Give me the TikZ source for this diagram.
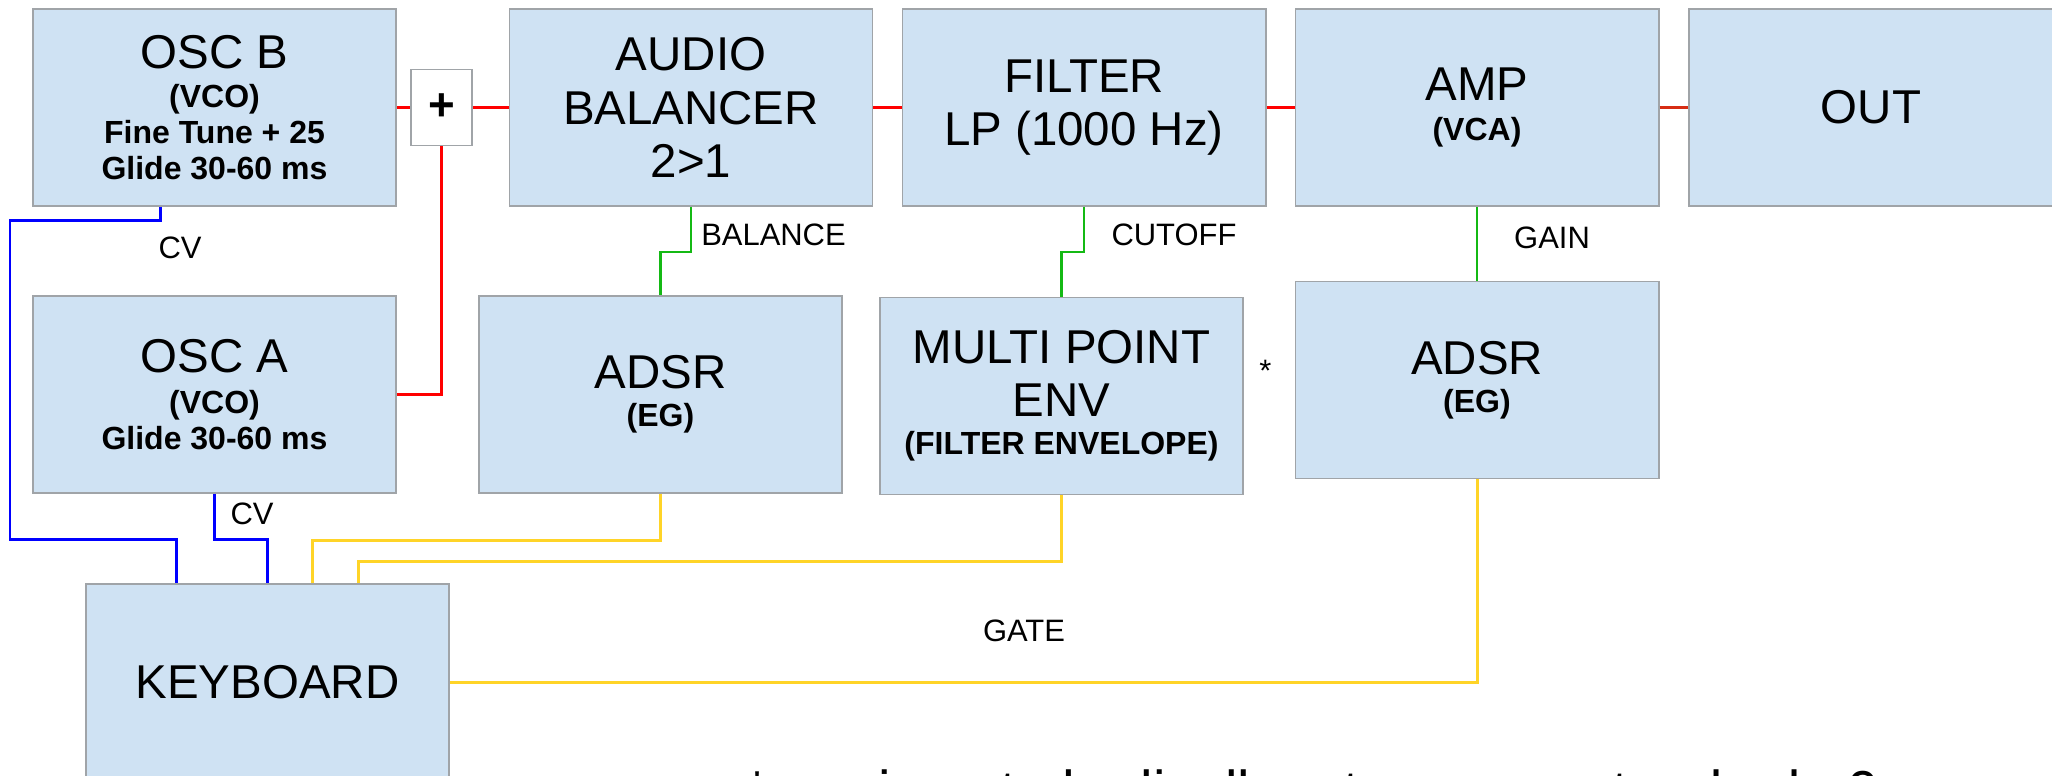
\documentclass[tikz,border=0pt]{standalone}
\usepackage{fontspec}
\setmainfont{Liberation Sans}
\definecolor{boxblue}{RGB}{207,226,243}
\definecolor{boxline}{RGB}{160,164,168}
\definecolor{audiored}{RGB}{255,0,0}
\definecolor{outred}{RGB}{215,45,20}
\definecolor{modgreen}{RGB}{20,185,20}
\definecolor{cvblue}{RGB}{0,0,255}
\definecolor{gateyellow}{RGB}{255,212,40}
\newcommand{\titlef}{\fontsize{13.5}{15.1}\selectfont\mdseries}
\newcommand{\subf}{\fontsize{9.1}{10.2}\selectfont\bfseries}
\newcommand{\lblf}{\fontsize{8.8}{10}\selectfont}

\begin{document}
\begin{tikzpicture}[x=0.01cm,y=-0.01cm,
	module/.style={draw=boxline,line width=0.5pt,fill=boxblue,minimum width=3.63cm,minimum height=1.97cm,inner sep=0pt,align=center,font=\subf},
	bigmodule/.style={module,font=\titlef},
	lbl/.style={font=\lblf,inner sep=0pt},
	audio/.style={draw=audiored,line width=1pt},
	cv/.style={draw=cvblue,line width=0.85pt},
	mod/.style={draw=modgreen,line width=0.75pt},
	gate/.style={draw=gateyellow,line width=0.85pt}]
	\useasboundingbox (0,0) rectangle (2052,775);
	\node[module] (oscb) at (214.5,107.5) {{\titlef OSC B}\\[0.8pt](VCO)\\Fine Tune + 25\\Glide 30-60 ms};
	\node[draw=boxline,fill=white,minimum width=0.61cm,minimum height=0.76cm,inner sep=0pt,font=\fontsize{13}{15}\selectfont\bfseries] (plus) at (441.5,107.5) {+};
	\node[bigmodule] (bal) at (691,107.5) {AUDIO\\BALANCER\\2>1};
	\node[bigmodule] (filter) at (1084,107.5) {FILTER\\LP (1000 Hz)};
	\node[module] (amp) at (1477,107.5) {{\titlef AMP}\\[1pt](VCA)};
	\node[bigmodule,minimum width=3.64cm] (out) at (1871,107.5) {OUT};
	\node[module] (osca) at (214.5,394.5) {{\titlef OSC A}\\[1.5pt](VCO)\\Glide 30-60 ms};
	\node[module] (adsra) at (660.5,394.5) {{\titlef ADSR}\\[0.5pt](EG)};
	\node[bigmodule] (multi) at (1061.5,396) {MULTI POINT\\ENV\\[-4.3pt]{\subf (FILTER ENVELOPE)}};
	\node[module] (adsrb) at (1477,380) {{\titlef ADSR}\\[0.5pt](EG)};
	\node[bigmodule] (kbd) at (267.5,682.5) {KEYBOARD};
	\draw[audio] (oscb.east) -- (plus.west);
	\draw[audio] (plus.east) -- (bal.west);
	\draw[audio] (bal.east) -- (filter.west);
	\draw[audio] (filter.east) -- (amp.west);
	\draw[audio,draw=outred] (amp.east) -- (out.west);
	\draw[audio] (osca.east) -| (plus.south);
	\draw[mod] (bal.south) -- ++(0,45) -| (adsra.north);
	\draw[mod] (filter.south) -- ++(0,45) -| (multi.north);
	\draw[mod] (amp.south) -- (adsrb.north);
	\coordinate (cvbend) at (10,539);
	\draw[cv] ([xshift=-0.535cm]oscb.south) -- ++(0,14) -| (cvbend) -| ([xshift=-0.905cm]kbd.north);
	\draw[cv] (osca.south) -- ++(0,45.5) -| (kbd.north);
	\draw[gate] (adsra.south) -- ++(0,47) -| ([xshift=0.445cm]kbd.north);
	\draw[gate] (multi.south) -- ++(0,66) -| ([xshift=0.905cm]kbd.north);
	\draw[gate] (adsrb.south) |- (kbd.east);
	\node[lbl] (cvb) at (180,248) {CV};
	\node[lbl] (cva) at (252,514) {CV};
	\node[lbl] (balance) at (773.5,235) {BALANCE};
	\node[lbl] (cutoff) at (1174,235) {CUTOFF};
	\node[lbl] (gain) at (1552,238) {GAIN};
	\node[lbl] (gatelbl) at (1024,631) {GATE};
	\node[lbl,anchor=north] (star) at (1265.5,359) {*};
	\node[font=\fontsize{16}{18}\selectfont,anchor=base west,inner sep=0pt] (note) at (746,810) {* ogni punto ha livello e tempo, partendo da 0};
\end{tikzpicture}
\end{document}
